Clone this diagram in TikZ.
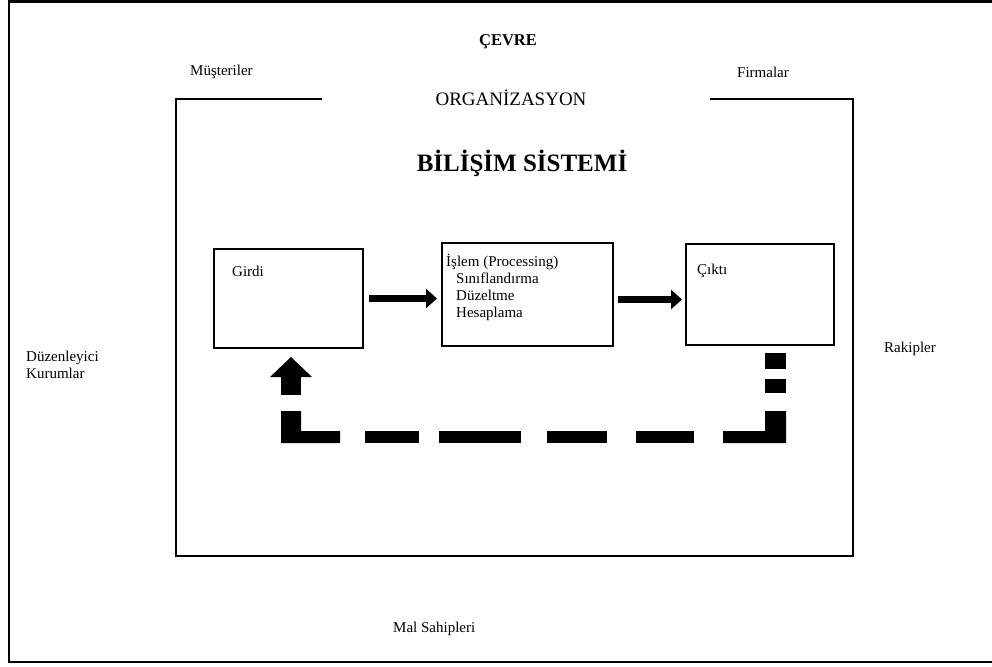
\documentclass[tikz,border=0pt]{standalone}
\usepackage{fontspec}
\setmainfont{Liberation Serif}
\usetikzlibrary{arrows.meta}
\begin{document}
\begin{tikzpicture}[x=1pt,y=-1pt,
  frameline/.style={line width=2.5pt},
  lab/.style={font=\fontsize{15}{17}\selectfont, inner sep=0pt},
  stagebox/.style={draw, line width=2pt, inner sep=0pt},
  flow/.style={-{Triangle[length=11pt,width=19pt]}, line width=6.5pt},
  fbpart/.style={fill=black}]
\useasboundingbox (0,0) rectangle (992,666);

% environment frame (open on the right)
\draw[frameline] (992,1.5) -- (9,1.5) -- (9,662) -- (992,662);

% organisation boundary with a gap in the top edge
\draw[frameline] (322,99) -- (176,99) -- (176,556) -- (853,556) -- (853,99) -- (710,99);

% headings
\node[font=\bfseries\fontsize{16.5}{18}\selectfont, inner sep=0pt] (cevre) at (508,42) {ÇEVRE};
\node[font=\fontsize{19}{22}\selectfont, inner sep=0pt] (org) at (511,98) {ORGANİZASYON};
\node[font=\bfseries\fontsize{25}{28}\selectfont, inner sep=0pt] (bs) at (522,163) {BİLİŞİM SİSTEMİ};

% environment actors
\node[lab, anchor=west] (musteri) at (190,72) {Müşteriler};
\node[lab, anchor=west] (firma) at (737,72) {Firmalar};
\node[lab, anchor=west, align=left] (duzen) at (26,365) {Düzenleyici\\Kurumlar};
\node[lab, anchor=west] (rakip) at (884,349) {Rakipler};
\node[lab, anchor=west] (malsahip) at (393,629) {Mal Sahipleri};

% processing stages
\node[stagebox, minimum width=149pt, minimum height=99pt] (girdi) at (288.5,298.5) {};
\node[stagebox, minimum width=171pt, minimum height=103pt] (islem) at (527.5,294.5) {};
\node[stagebox, minimum width=148pt, minimum height=101pt] (cikti) at (760,294.5) {};

\node[lab, anchor=west] (girditxt) at (232,271) {Girdi};
\node[lab, anchor=north west, align=left] (islemtxt) at (446,254)
  {İşlem (Processing)\\[0pt]\hspace*{10pt}Sınıflandırma\\[0pt]\hspace*{10pt}Düzeltme\\[0pt]\hspace*{10pt}Hesaplama};
\node[lab, anchor=west] (ciktitxt) at (697,271) {Çıktı};

% forward flow
\draw[flow, shorten <=5pt, shorten >=4pt] (girdi.east) -- (girdi.east -| islem.west);
\draw[flow, shorten <=4pt, shorten >=3pt] ([yshift=-5pt]islem.east) -- ([yshift=-5pt]islem.east -| cikti.west);

% feedback loop from output back to input
\fill[fbpart] (765,353) rectangle (786,369);
\fill[fbpart] (765,379) rectangle (786,393);
\fill[fbpart] (765,411) -- (786,411) -- (786,443) -- (723,443) -- (723,431) -- (765,431) -- cycle;
\fill[fbpart] (636,431) rectangle (694,443);
\fill[fbpart] (547,431) rectangle (607,443);
\fill[fbpart] (439,431) rectangle (521,443);
\fill[fbpart] (365,431) rectangle (419,443);
\fill[fbpart] (281,411) -- (301,411) -- (301,431) -- (340,431) -- (340,443) -- (281,443) -- cycle;
\fill[fbpart] (281,377) rectangle (301,395);
\fill[fbpart] (270,377) -- (291,357) -- (312,377) -- cycle;
\end{tikzpicture}
\end{document}
